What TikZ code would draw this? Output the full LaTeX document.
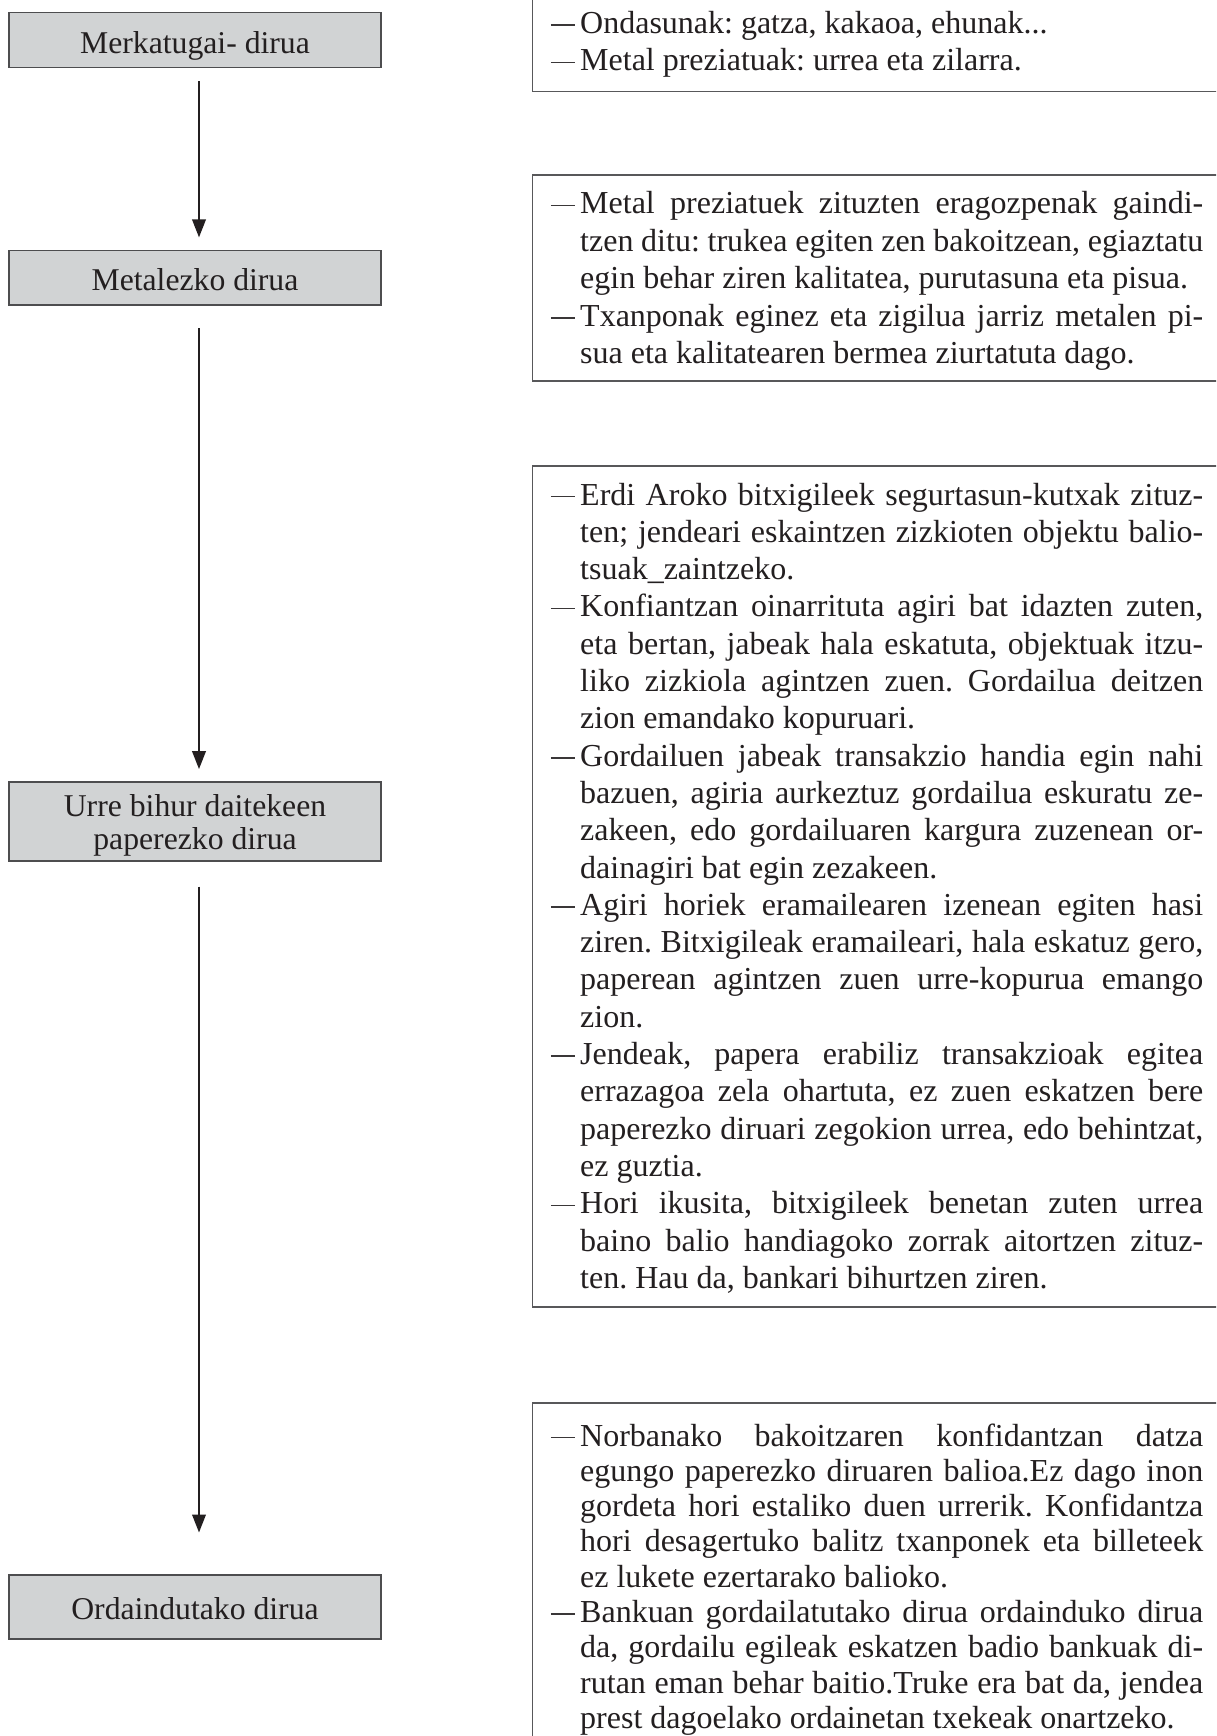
\documentclass[tikz,border=0pt]{standalone}
\usepackage{fontspec}
\setmainfont{Liberation Serif}
\usetikzlibrary{arrows.meta}

\definecolor{ink}{HTML}{231F20}
\definecolor{dashink}{HTML}{3A3738}
\definecolor{boxfill}{HTML}{D1D3D4}
\definecolor{boxline}{HTML}{4D4D4F}
\definecolor{frameline}{HTML}{58585A}

% one line of a bulleted paragraph: dash, hanging indent, justified or natural
\newcommand\dashmark{\hbox to 29.3pt{\textcolor{dashink}{\vrule height 9.1pt depth -7.6pt width 24pt}\hss}}
\newcommand\firstj[1]{\hbox to 652.3pt{\dashmark\hbox to 623pt{#1}}}
\newcommand\midj[1]{\hbox to 652.3pt{\hskip 29.3pt\hbox to 623pt{#1}}}
\newcommand\lastn[1]{\hbox{\hskip 29.3pt #1}}
\newcommand\onlyn[1]{\hbox{\dashmark #1}}
% one centred line of a stage label
\newcommand\stagerow[1]{\hbox to 372pt{\hss #1\hss}}

\tikzset{
  stagebox/.style={draw=boxline, fill=boxfill, line width=1.6pt, inner sep=0pt,
    minimum width=372pt},
  stagetext/.style={inner sep=0pt, text=ink, font=\fontsize{31.7pt}{33pt}\selectfont},
  notebox/.style={draw=frameline, line width=1.5pt, inner sep=0pt, anchor=north west,
    minimum width=720pt},
  notetext/.style={inner sep=0pt, anchor=base west, text=ink,
    font=\fontsize{32pt}{37.5pt}\selectfont\frenchspacing},
  flow/.style={draw=ink, line width=2.6pt, -{Triangle[length=18pt,width=13.3pt]}}
}

\begin{document}
\begin{tikzpicture}[x=1pt, y=-1pt]
\useasboundingbox (0,0) rectangle (1216,1736);
\fill[white] (0,0) rectangle (1216,1736);
\clip (0,0) rectangle (1216,1736);

% ---- stages on the left
\node[stagebox, minimum height=55pt]   (b1) at (195,40.2)   {};
\node[stagebox, minimum height=54.3pt] (b2) at (195,277.85) {};
\node[stagebox, minimum height=79.3pt] (b3) at (195,821.35) {};
\node[stagebox, minimum height=64pt]   (b4) at (195,1607)   {};

\node[stagetext, anchor=base] (t1) at (195,53.3)   {\vtop{\stagerow{Merkatugai- dirua}}};
\node[stagetext, anchor=base] (t2) at (195,290)    {\vtop{\stagerow{Metalezko dirua}}};
\node[stagetext, anchor=base] (t3) at (195,816.5)  {\vtop{\baselineskip=32.5pt\lineskiplimit=-100pt
  \stagerow{Urre bihur daitekeen}
  \stagerow{paperezko dirua}}};
\node[stagetext, anchor=base] (t4) at (195,1619.6) {\vtop{\stagerow{Ordaindutako dirua}}};

% ---- arrows between stages
\draw[flow, shorten <=13pt,   shorten >=12.4pt] ([xshift=4pt]b1.south) -- ([xshift=4pt]b2.north);
\draw[flow, shorten <=22.3pt, shorten >=11.7pt] ([xshift=4pt]b2.south) -- ([xshift=4pt]b3.north);
\draw[flow, shorten <=24.8pt, shorten >=41.6pt] ([xshift=4pt]b3.south) -- ([xshift=4pt]b4.north);

% ---- note frames on the right
\node[notebox, minimum height=110.7pt] (r1) at (531.7,-20)  {};
\node[notebox, minimum height=205.5pt] (r2) at (531.7,174.5) {};
\node[notebox, minimum height=841pt]   (r3) at (531.7,465)   {};
\node[notebox, minimum height=400pt]   (r4) at (531.7,1402)  {};

% ---- note texts
\node[notetext] (n1) at (550.7,33.3) {\vtop{\baselineskip=37.7pt\lineskiplimit=-100pt
\onlyn{Ondasunak: gatza, kakaoa, ehunak...}
\onlyn{Metal preziatuak: urrea eta zilarra.}}};

\node[notetext] (n2) at (550.7,214) {\vtop{\baselineskip=37.5pt\lineskiplimit=-100pt
\firstj{Metal preziatuek zituzten eragozpenak gaindi-}
\midj{tzen ditu: trukea egiten zen bakoitzean, egiaztatu}
\lastn{egin behar ziren kalitatea, purutasuna eta pisua.}
\firstj{Txanponak eginez eta zigilua jarriz metalen pi-}
\lastn{sua eta kalitatearen bermea ziurtatuta dago.}}};

\node[notetext] (n3) at (550.7,505) {\vtop{\baselineskip=37.3pt\lineskiplimit=-100pt
\firstj{Erdi Aroko bitxigileek segurtasun-kutxak zituz-}
\midj{ten; jendeari eskaintzen zizkioten objektu balio-}
\lastn{tsuak\_zaintzeko.}
\firstj{Konfiantzan oinarrituta agiri bat idazten zuten,}
\midj{eta bertan, jabeak hala eskatuta, objektuak itzu-}
\midj{liko zizkiola agintzen zuen. Gordailua deitzen}
\lastn{zion emandako kopuruari.}
\firstj{Gordailuen jabeak transakzio handia egin nahi}
\midj{bazuen, agiria aurkeztuz gordailua eskuratu ze-}
\midj{zakeen, edo gordailuaren kargura zuzenean or-}
\lastn{dainagiri bat egin zezakeen.}
\firstj{Agiri horiek eramailearen izenean egiten hasi}
\midj{ziren. Bitxigileak eramaileari, hala eskatuz gero,}
\midj{paperean agintzen zuen urre-kopurua emango}
\lastn{zion.}
\firstj{Jendeak, papera erabiliz transakzioak egitea}
\midj{errazagoa zela ohartuta, ez zuen eskatzen bere}
\midj{paperezko diruari zegokion urrea, edo behintzat,}
\lastn{ez guztia.}
\firstj{Hori ikusita, bitxigileek benetan zuten urrea}
\midj{baino balio handiagoko zorrak aitortzen zituz-}
\lastn{ten. Hau da, bankari bihurtzen ziren.}}};

\node[notetext] (n4) at (550.7,1446) {\vtop{\baselineskip=35.3pt\lineskiplimit=-100pt
\firstj{Norbanako bakoitzaren konfidantzan datza}
\midj{egungo paperezko diruaren balioa.Ez dago inon}
\midj{gordeta hori estaliko duen urrerik. Konfidantza}
\midj{hori desagertuko balitz txanponek eta billeteek}
\lastn{ez lukete ezertarako balioko.}
\firstj{Bankuan gordailatutako dirua ordainduko dirua}
\midj{da, gordailu egileak eskatzen badio bankuak di-}
\midj{rutan eman behar baitio.Truke era bat da, jendea}
\lastn{prest dagoelako ordainetan txekeak onartzeko.}}};
\end{tikzpicture}
\end{document}
